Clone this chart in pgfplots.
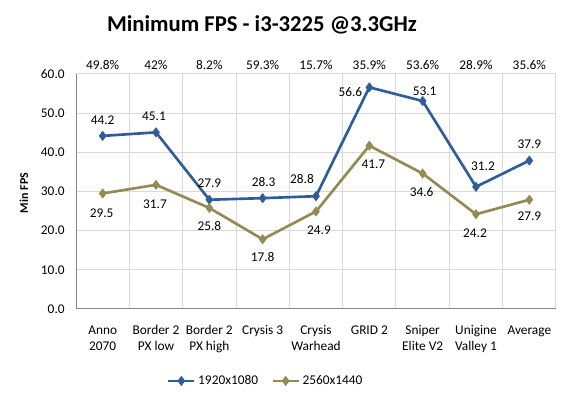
\documentclass[border=0pt]{standalone}
\usepackage{pgfplots}
\pgfplotsset{compat=1.18}
\usepackage{pgfplotstable}
\usepackage{fontspec}
\setmainfont{Carlito}
\definecolor{sblue}{HTML}{2F5D9B}
\definecolor{solive}{HTML}{948A54}
\definecolor{gridc}{HTML}{D9D9D9}
\definecolor{axc}{HTML}{868686}

\pgfplotstableread{
x y dx dy
0 44.2 0 16
1 45.1 -2 16
2 27.9 0 16
3 28.3 1 16
4 28.8 -14 17
5 56.6 -19 -5
6 53.1 2 10
7 31.2 7 21
8 37.9 0 16
}\hd
\pgfplotstableread{
x y dx dy
0 29.5 -1 -20
1 31.7 -1 -19
2 25.8 0 -18
3 17.8 0 -18
4 24.9 3 -19
5 41.7 4 -19
6 34.6 -1 -19
7 24.2 -1 -19
8 27.9 0 -17
}\qhd
\pgfplotstableread{
x y p
0 60 49.8
1 60 42
2 60 8.2
3 60 59.3
4 60 15.7
5 60 35.9
6 60 53.6
7 60 28.9
8 60 35.6
}\pct

\begin{document}
\begin{tikzpicture}
\useasboundingbox (0,0) rectangle (426pt,297pt);
\node[font=\bfseries\fontsize{17}{20}\selectfont] at (196.5pt,278.25pt) {Minimum FPS - i3-3225 @3.3GHz};
\node[font=\bfseries\fontsize{9}{11}\selectfont, rotate=90] at (18pt,152.25pt) {Min FPS};
\begin{axis}[
  at={(57pt,65.25pt)}, anchor=south west,
  width=360pt, height=176.25pt, scale only axis,
  xmin=-0.5, xmax=8.5, ymin=0, ymax=60,
  clip=false,
  axis lines*=left, axis line style={axc, line width=0.75pt, -},
  xtick={0,...,8},
  xticklabels={{Anno\\2070},{Border 2\\PX low},{Border 2\\PX high},{Crysis 3},{Crysis\\Warhead},{GRID 2},{Sniper\\Elite V2},{Unigine\\Valley 1},{Average}},
  xticklabel style={align=center, font=\fontsize{10}{12}\selectfont, anchor=north, yshift=-9pt},
  minor xtick={-0.5,0.5,...,8.5},
  xminorgrids=true, ymajorgrids=true,
  grid style={gridc, line width=0.75pt},
  minor grid style={gridc, line width=0.75pt},
  major tick length=0pt, minor tick length=0pt,
  ytick={0,10,...,60},
  yticklabel={\pgfmathprintnumber[fixed,fixed zerofill,precision=1,assume math mode=true]{\tick}},
  yticklabel style={font=\fontsize{10}{12}\selectfont, anchor=east, xshift=-5pt},
  legend style={draw=none, fill=none, legend columns=2, at={(0.396,-0.306)}, anchor=center,
    font=\fontsize{10}{12}\selectfont, /tikz/every even column/.append style={column sep=8pt}},
  legend image code/.code={\draw[mark repeat=2, mark phase=2] plot coordinates {(0cm,0cm) (0.34cm,0cm) (0.68cm,0cm)};},
  nodes near coords align=center,
]
\addplot[sblue, line width=2pt, mark=diamond*, mark size=2.2pt, mark options={solid},
  nodes near coords={\pgfplotspointmeta}, point meta=explicit symbolic,
  visualization depends on={\thisrow{dx}\as\dx},
  visualization depends on={\thisrow{dy}\as\dy},
  every node near coord/.append style={text=black, font=\fontsize{10}{12}\selectfont, xshift=\dx*0.75pt, yshift=\dy*0.75pt}]
  table[x=x, y=y, meta=y] {\hd};
\addlegendentry{1920x1080}
\addplot[solive, line width=2pt, mark=diamond*, mark size=2.2pt, mark options={solid},
  nodes near coords={\pgfplotspointmeta}, point meta=explicit symbolic,
  visualization depends on={\thisrow{dx}\as\dx},
  visualization depends on={\thisrow{dy}\as\dy},
  every node near coord/.append style={text=black, font=\fontsize{10}{12}\selectfont, xshift=\dx*0.75pt, yshift=\dy*0.75pt}]
  table[x=x, y=y, meta=y] {\qhd};
\addlegendentry{2560x1440}
\addplot[draw=none, mark=none, forget plot,
  nodes near coords={\pgfplotspointmeta\%}, point meta=explicit symbolic,
  every node near coord/.append style={text=black, font=\fontsize{10}{12}\selectfont, yshift=6.75pt}]
  table[x=x, y=y, meta=p] {\pct};
\end{axis}
\end{tikzpicture}
\end{document}
